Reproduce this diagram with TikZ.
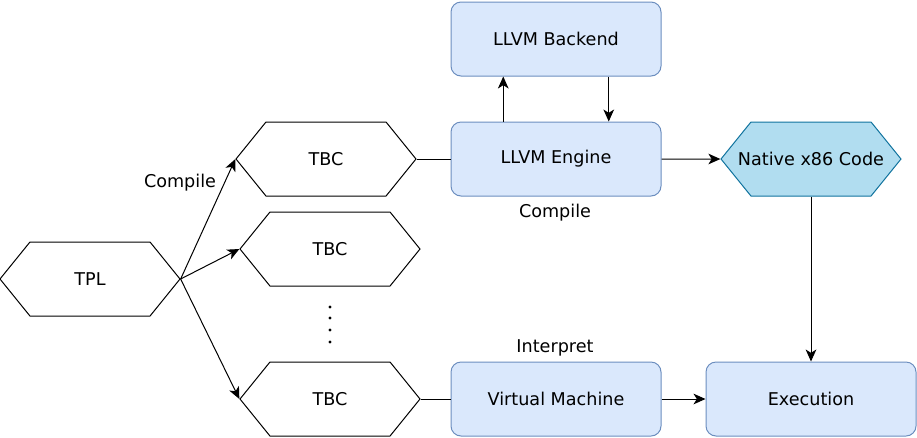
\documentclass[tikz,border=0pt]{standalone}
\usepackage{fontspec}
\setmainfont{DejaVu Sans}
\usetikzlibrary{shapes.symbols, arrows.meta, positioning, calc}
\definecolor{boxfill}{HTML}{DAE8FC}
\definecolor{boxline}{HTML}{6C8EBF}
\definecolor{codefill}{HTML}{B1DDF0}
\definecolor{codeline}{HTML}{10739E}

\begin{document}
\begin{tikzpicture}[
    x=0.75pt, y=-0.75pt,
    line width=0.75pt,
    font=\fontsize{13.2}{16}\selectfont,
    hexa/.style={draw, signal, signal to=east and west, signal pointer angle=102, minimum width=135pt, minimum height=55.5pt, inner sep=0pt},
    block/.style={draw=boxline, fill=boxfill, rounded corners=7.5pt, minimum width=157.5pt, minimum height=55.5pt},
    arr/.style={-{Stealth[length=9pt, width=8pt, inset=2.5pt]}}
]
\useasboundingbox (0,0) rectangle (917,437);

% Bytecode side
\node[hexa] (tpl) at (90,279) {TPL};
\node[hexa] (tbcA) at (326,159) {TBC};
\node[hexa] (tbcB) at (330,249) {TBC};
\node[hexa] (tbcC) at (330,399) {TBC};
\foreach \y in {307,318,330,342}
    \fill (330,\y) circle (1.2pt);

% Engines
\node[block] (backend) at (556,39) {LLVM Backend};
\node[block] (engine) at (556,159) {LLVM Engine};
\node[hexa, draw=codeline, fill=codefill] (native) at (811,159) {\makebox[0pt]{Native x86 Code}};
\node[block] (vm) at (556,399) {Virtual Machine};
\node[block] (exec) at (811,399) {Execution};

% Labels
\node (lblCompileA) at (180,183) {Compile};
\node (lblCompileB) at (555,213) {Compile};
\node (lblInterp) at (555,348) {Interpret};

% Connectors
\draw[arr] (tpl.east) -- (tbcA.west);
\draw[arr] (tpl.east) -- (tbcB.west);
\draw[arr] (tpl.east) -- (tbcC.west);
\draw (tbcA.east) -- (engine.west);
\draw (tbcC.east) -- (vm.west);
\draw[arr] ($(engine.north west)!0.25!(engine.north east)$) -- ($(backend.south west)!0.25!(backend.south east)$);
\draw[arr] ($(backend.south west)!0.75!(backend.south east)$) -- ($(engine.north west)!0.75!(engine.north east)$);
\draw[arr] (engine) -- (native);
\draw[arr] (native) -- (exec);
\draw[arr] (vm) -- (exec);

\end{tikzpicture}
\end{document}
